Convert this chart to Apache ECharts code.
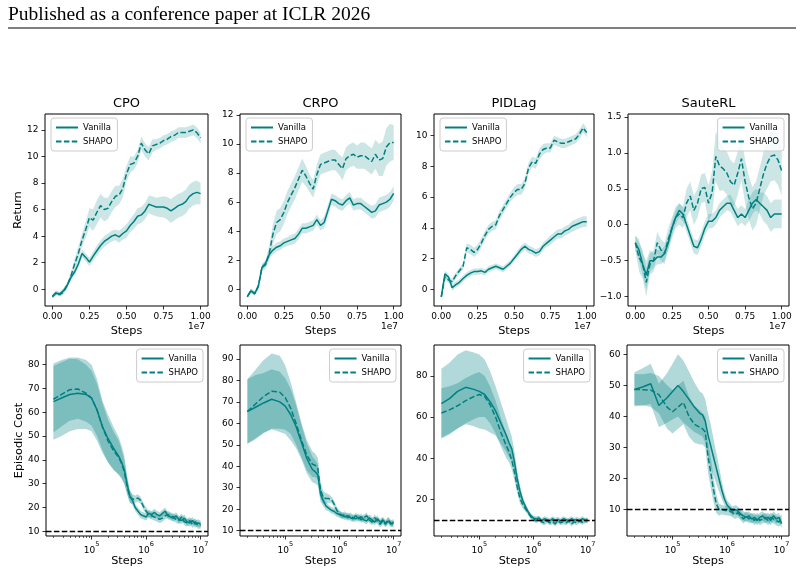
<!DOCTYPE html>
<html>
<head>
<meta charset="utf-8">
<title>SHAPO vs Vanilla</title>
<script src="https://cdn.jsdelivr.net/npm/echarts@6/dist/echarts.min.js"></script>
<style>
  html, body { margin: 0; padding: 0; background: #fff; }
  #main { width: 804px; height: 575px; }
</style>
</head>
<body>
<div id="main"></div>
<script>
// steps for the return curves, in units of 1e7
var retSteps = [0, 0.025, 0.05, 0.075, 0.1, 0.125, 0.15, 0.175, 0.2, 0.225, 0.25, 0.275, 0.3, 0.325, 0.35, 0.375, 0.4, 0.425, 0.45, 0.475,
    0.5, 0.525, 0.55, 0.575, 0.6, 0.625, 0.65, 0.675, 0.7, 0.725, 0.75, 0.775, 0.8, 0.825, 0.85, 0.875, 0.9, 0.925, 0.95, 0.975, 1.0];

var cpoRetVanilla = [-0.55, -0.3, -0.35, -0.1, 0.3, 0.9, 1.3, 1.9, 2.7, 2.4, 2.05, 2.5, 2.9, 3.3, 3.6, 3.8, 4.0, 4.1, 3.95, 4.2,
    4.4, 4.8, 5.1, 5.5, 5.6, 5.9, 6.4, 6.3, 6.2, 6.2, 6.2, 6.1, 5.9, 6.1, 6.3, 6.4, 6.6, 7.0, 7.2, 7.3, 7.2];
var cpoRetVanillaSpread = [0.15, 0.15, 0.15, 0.2, 0.2, 0.2, 0.25, 0.3, 0.3, 0.3, 0.3, 0.35, 0.4, 0.4, 0.4, 0.4, 0.4, 0.4, 0.45, 0.45,
    0.5, 0.5, 0.55, 0.6, 0.6, 0.6, 0.65, 0.7, 0.7, 0.75, 0.8, 0.85, 0.9, 0.9, 0.9, 0.9, 0.9, 0.9, 0.9, 0.9, 0.8];
var cpoRetShapo = [-0.55, -0.25, -0.4, -0.2, 0.3, 1.0, 1.9, 2.7, 3.7, 4.5, 5.4, 5.2, 5.8, 6.3, 6.0, 6.1, 6.6, 7.0, 7.1, 7.6,
    8.7, 9.4, 9.5, 10.0, 11.0, 10.5, 10.2, 10.8, 10.9, 11.0, 11.2, 11.3, 11.5, 11.6, 11.8, 11.8, 11.8, 11.9, 12.0, 11.8, 11.4];
var cpoRetShapoSpread = [0.15, 0.15, 0.15, 0.2, 0.2, 0.3, 0.4, 0.5, 0.5, 0.6, 0.7, 0.8, 0.9, 0.9, 0.9, 0.8, 0.8, 0.8, 0.7, 0.7,
    0.6, 0.6, 0.5, 0.5, 0.5, 0.5, 0.5, 0.5, 0.4, 0.4, 0.4, 0.4, 0.4, 0.4, 0.4, 0.4, 0.4, 0.4, 0.4, 0.4, 0.4];

var crpoRetVanilla = [-0.5, -0.1, -0.3, 0.2, 1.5, 1.8, 2.4, 2.7, 2.9, 3.0, 3.2, 3.3, 3.4, 3.5, 3.8, 4.2, 4.2, 4.3, 4.4, 4.8,
    4.4, 4.6, 5.4, 6.2, 6.1, 5.9, 5.8, 6.1, 6.3, 5.8, 5.9, 5.9, 5.7, 5.5, 5.3, 5.4, 5.8, 5.9, 6.0, 6.2, 6.6];
var crpoRetVanillaSpread = [0.1, 0.15, 0.15, 0.2, 0.2, 0.2, 0.25, 0.3, 0.3, 0.3, 0.3, 0.3, 0.35, 0.35, 0.35, 0.35, 0.35, 0.35, 0.35, 0.35,
    0.35, 0.4, 0.4, 0.4, 0.4, 0.4, 0.4, 0.4, 0.4, 0.4, 0.4, 0.4, 0.4, 0.4, 0.45, 0.45, 0.5, 0.5, 0.5, 0.5, 0.5];
var crpoRetShapo = [-0.5, -0.1, -0.3, 0.2, 1.5, 1.7, 2.5, 3.8, 4.6, 4.8, 5.3, 6.0, 6.5, 7.0, 7.6, 8.2, 7.8, 7.3, 6.9, 7.9,
    8.6, 8.7, 8.8, 8.9, 8.9, 8.6, 8.3, 9.0, 9.2, 9.3, 9.1, 9.2, 9.2, 9.0, 8.8, 9.3, 8.9, 9.0, 9.8, 10.1, 10.1];
var crpoRetShapoSpread = [0.1, 0.15, 0.15, 0.2, 0.2, 0.3, 0.5, 0.7, 0.8, 0.8, 0.8, 0.8, 0.8, 0.8, 0.8, 0.8, 0.7, 0.6, 0.6, 0.7,
    0.7, 0.7, 0.7, 0.7, 0.7, 0.7, 0.8, 0.8, 0.8, 0.8, 0.8, 0.9, 0.9, 0.9, 0.9, 1.0, 1.1, 1.2, 1.3, 1.3, 1.2];

var pidRetVanilla = [-0.5, 1.0, 0.8, 0.1, 0.3, 0.45, 0.7, 0.9, 1.05, 1.15, 1.15, 1.2, 1.1, 1.3, 1.4, 1.5, 1.4, 1.3, 1.5, 1.7,
    2.0, 2.3, 2.6, 2.8, 2.6, 2.5, 2.35, 2.45, 2.8, 3.0, 3.2, 3.4, 3.6, 3.6, 3.8, 3.9, 4.1, 4.2, 4.3, 4.4, 4.4];
var pidRetVanillaSpread = [0.05, 0.2, 0.2, 0.2, 0.2, 0.2, 0.2, 0.2, 0.2, 0.2, 0.2, 0.2, 0.2, 0.2, 0.2, 0.2, 0.2, 0.2, 0.2, 0.2,
    0.2, 0.25, 0.25, 0.25, 0.25, 0.25, 0.25, 0.25, 0.25, 0.25, 0.3, 0.3, 0.3, 0.3, 0.3, 0.3, 0.35, 0.35, 0.35, 0.35, 0.35];
var pidRetShapo = [-0.5, 0.8, 0.6, 0.5, 0.9, 1.2, 1.5, 2.7, 2.6, 2.4, 2.6, 3.0, 3.5, 3.9, 4.1, 4.2, 4.8, 5.2, 5.6, 6.0,
    6.3, 6.5, 6.5, 6.9, 7.9, 8.3, 8.2, 8.8, 9.1, 9.2, 9.2, 9.7, 9.6, 9.5, 9.5, 9.6, 9.7, 9.8, 10.1, 10.5, 10.2];
var pidRetShapoSpread = [0.05, 0.2, 0.2, 0.2, 0.2, 0.2, 0.2, 0.3, 0.3, 0.3, 0.3, 0.3, 0.3, 0.3, 0.3, 0.3, 0.3, 0.3, 0.3, 0.3,
    0.35, 0.35, 0.35, 0.35, 0.35, 0.35, 0.35, 0.35, 0.35, 0.3, 0.3, 0.3, 0.3, 0.3, 0.3, 0.3, 0.3, 0.3, 0.3, 0.3, 0.3];

var sauteRetVanilla = [-0.25, -0.35, -0.55, -0.7, -0.5, -0.5, -0.45, -0.45, -0.4, -0.25, -0.05, 0.1, 0.2, 0.15, 0.0, -0.15, -0.3, -0.32, -0.2, -0.05,
    0.05, 0.05, 0.1, 0.2, 0.25, 0.3, 0.3, 0.2, 0.1, 0.15, 0.1, 0.2, 0.3, 0.35, 0.3, 0.25, 0.2, 0.1, 0.15, 0.15, 0.15];
var sauteRetVanillaSpread = [0.1, 0.15, 0.15, 0.2, 0.15, 0.1, 0.1, 0.1, 0.1, 0.1, 0.1, 0.1, 0.1, 0.1, 0.1, 0.1, 0.1, 0.1, 0.1, 0.1,
    0.1, 0.1, 0.1, 0.1, 0.1, 0.1, 0.12, 0.12, 0.12, 0.12, 0.12, 0.15, 0.15, 0.15, 0.15, 0.2, 0.2, 0.2, 0.2, 0.2, 0.2];
var sauteRetShapo = [-0.25, -0.45, -0.55, -0.8, -0.55, -0.5, -0.25, -0.35, -0.4, -0.2, -0.05, 0.1, 0.15, 0.1, 0.3, 0.4, 0.2, 0.3, 0.5, 0.52,
    0.3, 0.45, 0.95, 0.82, 0.78, 0.72, 0.6, 0.55, 0.72, 0.92, 0.6, 0.38, 0.22, 0.3, 0.5, 0.7, 0.85, 0.95, 0.97, 0.9, 0.75];
var sauteRetShapoSpread = [0.1, 0.2, 0.2, 0.2, 0.15, 0.15, 0.15, 0.15, 0.15, 0.15, 0.15, 0.15, 0.15, 0.15, 0.2, 0.2, 0.2, 0.2, 0.2, 0.2,
    0.25, 0.3, 0.35, 0.35, 0.3, 0.3, 0.3, 0.3, 0.3, 0.3, 0.3, 0.3, 0.3, 0.3, 0.3, 0.3, 0.35, 0.35, 0.35, 0.35, 0.35];

// steps for the cost curves (log axis)
var costSteps = [20000, 28200, 39800, 56200, 79400, 100000, 126000, 158000, 200000, 251000, 316000, 355000, 398000, 447000, 501000,
    562000, 631000, 708000, 794000, 891000, 1000000, 1122000, 1259000, 1413000, 1585000, 1778000, 1995000, 2239000, 2512000,
    2818000, 3162000, 3548000, 3981000, 4467000, 5012000, 5623000, 6310000, 7079000, 7943000, 8913000, 10000000];

var cpoCostVanilla = [64.5, 66, 67.5, 68, 67.5, 66, 61, 54, 49, 45, 41.5, 39, 36, 30, 25, 23, 20, 18.5, 17, 16.5,
    16, 17.5, 17, 18, 17, 16.5, 17.5, 18.5, 16.5, 16, 15.5, 16.5, 15, 14.5, 15.5, 14, 13.5, 14.5, 13, 13.5, 13];
var cpoCostVanillaSpread = [16, 16, 15.5, 15, 14.5, 14, 13, 11, 10, 9, 8, 7, 6, 4, 2.5, 2, 1.5, 1.5, 1.5, 1.5,
    1.5, 1.5, 1.5, 1.5, 1.5, 1.5, 1.5, 1.5, 1.5, 1.5, 1.5, 1.5, 1.5, 1.5, 1.5, 1.5, 1.5, 1.5, 1.5, 1.5, 1.5];
var cpoCostShapo = [65.5, 67.5, 69.5, 69.8, 68, 66, 61, 54, 48, 44, 41, 38.5, 35, 29, 24.5, 23.5, 23.5, 24, 23, 20.5,
    18.5, 17, 16.5, 16, 15.5, 15, 15.5, 16.5, 17, 16.5, 16, 15, 14.5, 16, 14, 13.5, 14.5, 13, 14, 12.5, 12.5];
var cpoCostShapoSpread = [14, 13.5, 13, 12.5, 12, 11.5, 11, 10, 9, 8, 7, 6, 5, 3.5, 2.5, 2, 1.5, 1.5, 1.5, 1.5,
    1.5, 1.5, 1.5, 1.5, 1.5, 1.5, 1.5, 1.5, 1.5, 1.5, 1.5, 1.5, 1.5, 1.5, 1.5, 1.5, 1.5, 1.5, 1.5, 1.5, 1.5];

var crpoCostVanilla = [65.5, 67.5, 69.5, 71.2, 70, 68, 64, 58.5, 51, 43.5, 38.5, 37.5, 36, 27, 24, 21.5, 20.5, 19.5, 19, 18,
    17.5, 17, 16.5, 17, 16, 15.5, 17, 15.5, 16.5, 15, 14.5, 16, 15, 14, 15.5, 14, 15, 13.5, 14.5, 13, 14];
var crpoCostVanillaSpread = [15, 15, 14, 14, 14, 13, 12, 10, 8, 7, 6, 5.5, 5, 3.5, 2.5, 2, 1.5, 1.5, 1.5, 1.5,
    1.5, 1.5, 1.5, 1.5, 1.5, 1.5, 1.5, 1.5, 1.5, 1.5, 1.5, 1.5, 1.5, 1.5, 1.5, 1.5, 1.5, 1.5, 1.5, 1.5, 1.5];
var crpoCostShapo = [65.5, 69, 72.5, 75, 74.5, 72, 67, 60, 52, 45, 41, 40.5, 39, 29, 25.5, 25, 25, 24.5, 22.5, 19.5,
    18, 17, 17.5, 16, 17, 16, 15.5, 16.5, 15, 16, 17, 15, 14, 16, 14.5, 13, 14.5, 13, 15, 13.5, 13];
var crpoCostShapoSpread = [15, 16, 17, 17.5, 17, 15, 12, 10, 8, 7, 6, 5.5, 5, 4, 3, 2.5, 2, 1.5, 1.5, 1.5,
    1.5, 1.5, 1.5, 1.5, 1.5, 1.5, 1.5, 1.5, 1.5, 1.5, 1.5, 1.5, 1.5, 1.5, 1.5, 1.5, 1.5, 1.5, 1.5, 1.5, 1.5];

var pidCostVanilla = [66.5, 69, 72.5, 74.5, 73.5, 72.5, 71, 67.5, 63, 57, 51, 47.5, 44.5, 38, 30, 24, 19.5, 16.5, 14, 12,
    10.8, 10.5, 10.8, 9.5, 10.5, 10, 9.5, 10.5, 9.8, 10.2, 9.5, 10.5, 10, 9.5, 10.5, 9.8, 10.2, 9.5, 10.5, 9.8, 9.5];
var pidCostVanillaSpread = [17, 17.5, 18, 18, 18, 18, 17, 15, 12, 10, 8, 7, 6, 5, 4, 3, 2, 1.5, 1.2, 1.2,
    1.2, 1.2, 1.2, 1.2, 1.2, 1.2, 1.2, 1.2, 1.2, 1.2, 1.2, 1.2, 1.2, 1.2, 1.2, 1.2, 1.2, 1.2, 1.2, 1.2, 1.2];
var pidCostShapo = [62, 63.5, 65.5, 68, 70, 71, 70, 66, 60, 52.5, 46, 43, 39, 33, 26, 20.5, 17.5, 15.5, 13.5, 11.5,
    10.3, 9.5, 10.5, 9, 8.5, 9.5, 8.5, 9, 8, 9.5, 8.5, 9, 8.5, 9.5, 8, 9, 8.5, 9.5, 8.8, 9.5, 10];
var pidCostShapoSpread = [12, 11.5, 11, 11, 11, 11, 10, 9, 8, 7, 6, 5, 4.5, 4, 3, 2.5, 2, 1.5, 1.2, 1.2,
    1.2, 1.2, 1.2, 1.2, 1.2, 1.2, 1.2, 1.2, 1.2, 1.2, 1.2, 1.2, 1.2, 1.2, 1.2, 1.2, 1.2, 1.2, 1.2, 1.2, 1.2];

var sauteCostVanilla = [48.7, 49.5, 50.5, 43.5, 46, 48, 50, 48, 45.5, 43, 41, 40.5, 38.5, 34, 30.5, 27, 23.5, 20, 16.5, 13.5,
    11.5, 10.5, 9.5, 10, 9.5, 8.5, 8, 7.5, 8, 7, 7.5, 6.5, 7.5, 8, 7, 7.5, 6.5, 8, 7, 7.5, 5.5];
var sauteCostVanillaSpread = [5.5, 6, 6.5, 7, 8, 9, 10, 10, 9, 8, 7, 7, 7, 7, 7, 6, 5, 4, 3, 2,
    1.5, 1.5, 1.5, 1.5, 1.5, 1.5, 1.5, 1.5, 1.5, 1.5, 1.5, 1.5, 1.5, 1.5, 1.5, 1.5, 1.5, 1.5, 1.5, 1.5, 1.5];
var sauteCostShapo = [48.7, 48.6, 48.5, 47, 43, 41.5, 43, 44.5, 40, 37.5, 36.5, 36, 35, 27, 22, 16.5, 12, 10, 10, 9.8,
    9.6, 9.5, 9, 8.5, 9, 8, 7, 8, 7, 7.5, 6.5, 7.5, 6.5, 7, 7.5, 6.5, 7.5, 7, 6.5, 6, 7];
var sauteCostShapoSpread = [5, 5, 5.5, 6, 7, 7, 7, 7, 6.5, 6, 5.5, 5, 5, 5, 5, 4, 3, 2, 1.5, 1.5,
    1.5, 1.5, 1.5, 1.5, 1.5, 1.5, 1.5, 1.5, 1.5, 1.5, 1.5, 1.5, 1.5, 1.5, 1.5, 1.5, 1.5, 1.5, 1.5, 1.5, 1.5];

var titles = ['CPO', 'CRPO', 'PIDLag', 'SauteRL'];
var retTicks = [[0, 2, 4, 6, 8, 10, 12], [0, 2, 4, 6, 8, 10, 12], [0, 2, 4, 6, 8, 10], [-1.0, -0.5, 0.0, 0.5, 1.0, 1.5]];
var costTicks = [[10, 20, 30, 40, 50, 60, 70, 80], [10, 20, 30, 40, 50, 60, 70, 80, 90], [20, 40, 60, 80], [10, 20, 30, 40, 50, 60]];
var retXTicks = [0, 0.25, 0.5, 0.75, 1.0];
var costXTicks = [1e5, 1e6, 1e7];
var costXMinorTicks = [20000, 30000, 40000, 50000, 60000, 70000, 80000, 90000,
    200000, 300000, 400000, 500000, 600000, 700000, 800000, 900000,
    2000000, 3000000, 4000000, 5000000, 6000000, 7000000, 8000000, 9000000];
var costLimit = 10;

var retPanels = [
    {v: cpoRetVanilla, vs: cpoRetVanillaSpread, s: cpoRetShapo, ss: cpoRetShapoSpread, ymin: -1.26, ymax: 13.2},
    {v: crpoRetVanilla, vs: crpoRetVanillaSpread, s: crpoRetShapo, ss: crpoRetShapoSpread, ymin: -1.15, ymax: 12.07},
    {v: pidRetVanilla, vs: pidRetVanillaSpread, s: pidRetShapo, ss: pidRetShapoSpread, ymin: -1.09, ymax: 11.41},
    {v: sauteRetVanilla, vs: sauteRetVanillaSpread, s: sauteRetShapo, ss: sauteRetShapoSpread, ymin: -1.13, ymax: 1.54}
];
var costPanels = [
    {v: cpoCostVanilla, vs: cpoCostVanillaSpread, s: cpoCostShapo, ss: cpoCostShapoSpread, ymin: 8.0, ymax: 88.3},
    {v: crpoCostVanilla, vs: crpoCostVanillaSpread, s: crpoCostShapo, ss: crpoCostShapoSpread, ymin: 7.5, ymax: 96.5},
    {v: pidCostVanilla, vs: pidCostVanillaSpread, s: pidCostShapo, ss: pidCostShapoSpread, ymin: 2.1, ymax: 95.1},
    {v: sauteCostVanilla, vs: sauteCostVanillaSpread, s: sauteCostShapo, ss: sauteCostShapoSpread, ymin: 1.5, ymax: 63.0}
];

// layout (pixels)
var topRow = {top: 114, height: 192, lefts: [45, 240, 434, 628], widths: [163, 161, 160, 161]};
var botRow = {top: 345, height: 191, lefts: [46, 240, 434, 627], widths: [162, 161, 161, 162]};
var TEAL = '#008080';
var FONT = 'DejaVu Sans';
var DASH = [5.5, 2.4];
var logMin = Math.pow(10, 4.165), logMax = Math.pow(10, 7.135);

function fmtNum(v, digits) {
    return v.toFixed(digits).replace('-', '\u2212');
}

var grids = [], xAxes = [], yAxes = [], series = [], legends = [], titleList = [], graphics = [];

// shaded mean +/- spread band, drawn as one polygon through the axis scales
function addBand(xs, mean, spread, axisIdx, alpha) {
    var rows = [];
    for (var i = 0; i < xs.length; i++) {
        rows.push([xs[i], mean[i] - spread[i], mean[i] + spread[i]]);
    }
    series.push({
        type: 'custom', xAxisIndex: axisIdx, yAxisIndex: axisIdx, data: rows, silent: true, z: 1,
        encode: {x: 0, y: [1, 2]},
        renderItem: function (params, api) {
            if (params.dataIndex !== 0) return;
            var upper = [], lower = [];
            for (var n = 0; n < rows.length; n++) {
                upper.push(api.coord([rows[n][0], rows[n][2]]));
                lower.unshift(api.coord([rows[n][0], rows[n][1]]));
            }
            return {
                type: 'polygon',
                shape: {points: upper.concat(lower)},
                style: {fill: 'rgba(0,128,128,' + alpha + ')', stroke: 'none'}
            };
        }
    });
}

function addLine(name, xs, ys, axisIdx, dashed, extra) {
    var data = [];
    for (var i = 0; i < xs.length; i++) data.push([xs[i], ys[i]]);
    var s = {
        type: 'line', name: name, xAxisIndex: axisIdx, yAxisIndex: axisIdx, data: data, symbol: 'none',
        lineStyle: {color: TEAL, width: 1.5, type: dashed ? DASH : 'solid'}, itemStyle: {color: TEAL}, z: 3
    };
    if (extra) s.markLine = extra;
    series.push(s);
}

function addLegend(gLeft, gTop, gWidth, rightSide) {
    var l = {
        data: ['Vanilla', 'SHAPO'], orient: 'vertical', top: gTop + 4,
        itemWidth: 22, itemHeight: 9, itemGap: 5, padding: [5, 5, 5, 4],
        itemStyle: {opacity: 0},
        backgroundColor: 'rgba(255,255,255,0.8)', borderColor: '#cccccc', borderWidth: 1, borderRadius: 3,
        textStyle: {fontFamily: FONT, fontSize: 8.5, color: '#000'}, selectedMode: false
    };
    if (rightSide) l.right = 804 - (gLeft + gWidth - 5); else l.left = gLeft + 6;
    legends.push(l);
}

// top row: return
for (var i = 0; i < 4; i++) {
    var p = retPanels[i];
    var gl = topRow.lefts[i], gw = topRow.widths[i];
    grids.push({left: gl, top: topRow.top, width: gw, height: topRow.height, show: true, borderColor: '#000', borderWidth: 1, backgroundColor: 'transparent'});
    xAxes.push({
        type: 'value', gridIndex: i, min: -0.05, max: 1.05,
        axisLine: {show: false, onZero: false},
        axisTick: {show: true, length: 3.5, customValues: retXTicks, lineStyle: {color: '#000', width: 0.8}},
        axisLabel: {customValues: retXTicks, margin: 6, fontFamily: FONT, fontSize: 9, color: '#000', formatter: function (v) { return v.toFixed(2); }},
        splitLine: {show: false},
        name: 'Steps', nameLocation: 'middle', nameGap: 20, nameTextStyle: {fontFamily: FONT, fontSize: 11.3, color: '#000'}
    });
    var dig = i === 3 ? 1 : 0;
    yAxes.push({
        type: 'value', gridIndex: i, min: p.ymin, max: p.ymax,
        axisLine: {show: false, onZero: false},
        axisTick: {show: true, length: 3.5, customValues: retTicks[i], lineStyle: {color: '#000', width: 0.8}},
        axisLabel: {customValues: retTicks[i], margin: 6.5, fontFamily: FONT, fontSize: 9, color: '#000',
            formatter: (function (d) { return function (v) { return fmtNum(v, d); }; })(dig)},
        splitLine: {show: false},
        name: i === 0 ? 'Return' : '', nameLocation: 'middle', nameGap: 19,
        nameTextStyle: {fontFamily: FONT, fontSize: 11.3, color: '#000'}
    });
    addBand(retSteps, p.v, p.vs, i, 0.2);
    addBand(retSteps, p.s, p.ss, i, 0.2);
    addLine('Vanilla', retSteps, p.v, i, false);
    addLine('SHAPO', retSteps, p.s, i, true);
    addLegend(gl, topRow.top, gw, i === 3);
    titleList.push({text: titles[i], left: gl + gw / 2, top: 97, textAlign: 'center', padding: 0,
        textStyle: {fontFamily: FONT, fontSize: 13, fontWeight: 'normal', color: '#000'}});
    graphics.push({type: 'text', x: gl + gw - 3, y: 327, style: {text: '1e7', fill: '#000', font: '9px "DejaVu Sans"', textAlign: 'right', textVerticalAlign: 'middle'}});
}

// bottom row: episodic cost
for (var j = 0; j < 4; j++) {
    var q = costPanels[j];
    var gi = 4 + j;
    var bl = botRow.lefts[j], bw = botRow.widths[j];
    grids.push({left: bl, top: botRow.top, width: bw, height: botRow.height, show: true, borderColor: '#000', borderWidth: 1, backgroundColor: 'transparent'});
    xAxes.push({
        type: 'log', logBase: 10, gridIndex: gi, min: logMin, max: logMax,
        axisLine: {show: false, onZero: false},
        axisTick: {show: true, length: 3.5, customValues: costXTicks, lineStyle: {color: '#000', width: 0.8}},
        axisLabel: {customValues: costXTicks, margin: 5, color: '#000',
            formatter: function (v) { return '{b|10}{s|' + Math.round(Math.log10(v)) + '}'; },
            rich: {
                b: {fontFamily: FONT, fontSize: 9, color: '#000', lineHeight: 14, verticalAlign: 'bottom'},
                s: {fontFamily: FONT, fontSize: 6.5, color: '#000', lineHeight: 8, verticalAlign: 'top'}
            }},
        splitLine: {show: false},
        name: 'Steps', nameLocation: 'middle', nameGap: 19, nameTextStyle: {fontFamily: FONT, fontSize: 11.3, color: '#000'}
    });
    yAxes.push({
        type: 'value', gridIndex: gi, min: q.ymin, max: q.ymax,
        axisLine: {show: false, onZero: false},
        axisTick: {show: true, length: 3.5, customValues: costTicks[j], lineStyle: {color: '#000', width: 0.8}},
        axisLabel: {customValues: costTicks[j], margin: 6.5, fontFamily: FONT, fontSize: 9, color: '#000',
            formatter: function (v) { return fmtNum(v, 0); }},
        splitLine: {show: false},
        name: j === 0 ? 'Episodic Cost' : '', nameLocation: 'middle', nameGap: 19,
        nameTextStyle: {fontFamily: FONT, fontSize: 11.3, color: '#000'}
    });
    addBand(costSteps, q.v, q.vs, gi, 0.3);
    addBand(costSteps, q.s, q.ss, gi, 0.3);
    addLine('Vanilla', costSteps, q.v, gi, false, {
        silent: true, symbol: 'none', label: {show: false},
        lineStyle: {color: '#000', type: DASH, width: 1.3},
        data: [{yAxis: costLimit}]
    });
    addLine('SHAPO', costSteps, q.s, gi, true);
    addLegend(bl, botRow.top, bw, true);
}

// minor ticks on the log axes
for (var k = 0; k < 4; k++) {
    xAxes.push({
        type: 'log', logBase: 10, gridIndex: 4 + k, position: 'bottom', min: logMin, max: logMax,
        axisLine: {show: false, onZero: false},
        axisTick: {show: true, length: 2, customValues: costXMinorTicks, lineStyle: {color: '#000', width: 0.6}},
        axisLabel: {show: false}, splitLine: {show: false}
    });
}

// page header
graphics.push({type: 'text', x: 8, y: 15, style: {text: 'Published as a conference paper at ICLR 2026', fill: '#000',
    font: '19.5px "Liberation Serif"', textVerticalAlign: 'middle'}});
graphics.push({type: 'line', shape: {x1: 8, y1: 28, x2: 796, y2: 28}, style: {stroke: '#000', lineWidth: 1}});

var myChart = echarts.init(document.getElementById('main'), null, {renderer: 'canvas'});
var option = {
    backgroundColor: '#fff',
    animation: false,
    title: titleList,
    legend: legends,
    grid: grids,
    xAxis: xAxes,
    yAxis: yAxes,
    series: series,
    graphic: graphics
};
myChart.setOption(option);
</script>
</body>
</html>
